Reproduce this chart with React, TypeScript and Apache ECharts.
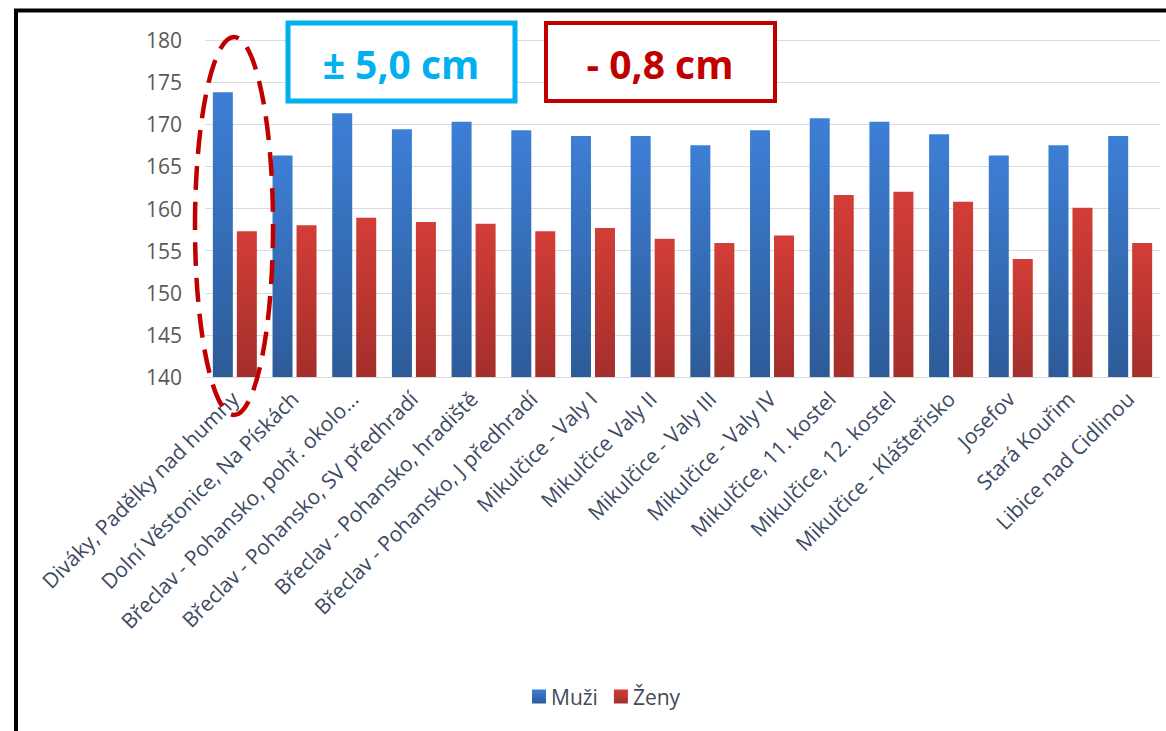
import React, { useEffect, useRef } from "react";
import * as echarts from "echarts";

const categories = [
  "Diváky, Padělky nad humny",
  "Dolní Věstonice, Na Pískách",
  "Břeclav - Pohansko, pohř. okolo...",
  "Břeclav - Pohansko, SV předhradí",
  "Břeclav - Pohansko, hradiště",
  "Břeclav - Pohansko, J předhradí",
  "Mikulčice - Valy I",
  "Mikulčice Valy II",
  "Mikulčice - Valy III",
  "Mikulčice - Valy IV",
  "Mikulčice, 11. kostel",
  "Mikulčice, 12. kostel",
  "Mikulčice - Klášteřisko",
  "Josefov",
  "Stará Kouřim",
  "Libice nad Cidlinou",
];

const muzi = [173.8, 166.3, 171.3, 169.4, 170.3, 169.3, 168.6, 168.6, 167.5, 169.3, 170.7, 170.3, 168.8, 166.3, 167.5, 168.6];
const zeny = [157.3, 158.0, 158.9, 158.4, 158.2, 157.3, 157.7, 156.4, 155.9, 156.8, 161.6, 162.0, 160.8, 154.0, 160.1, 155.9];

const yMin = 140;
const yMax = 180;
const yStep = 5;

const seriesNames = ["Muži", "Ženy"];
const boxTexts = ["± 5,0 cm", "- 0,8 cm"];

const FONT = "'Open Sans', 'Noto Sans', sans-serif";

export default function App() {
  const ref = useRef<HTMLDivElement>(null);

  useEffect(() => {
    if (!ref.current) return;
    const chart = echarts.init(ref.current, null, { renderer: "svg" });

    const blueGrad = new echarts.graphic.LinearGradient(0, 0, 0, 1, [
      { offset: 0, color: "#3d7fd6" },
      { offset: 1, color: "#2d5b98" },
    ]);
    const redGrad = new echarts.graphic.LinearGradient(0, 0, 0, 1, [
      { offset: 0, color: "#d33d37" },
      { offset: 1, color: "#a32f2b" },
    ]);

    chart.setOption({
      animation: false,
      backgroundColor: "#ffffff",
      textStyle: { fontFamily: FONT },
      grid: { left: 205, right: 6, top: 40, bottom: 354, containLabel: false },
      legend: {
        data: seriesNames,
        top: 681,
        left: 527,
        icon: "rect",
        itemWidth: 14,
        itemHeight: 14,
        itemGap: 16,
        textStyle: { fontSize: 21, color: "#44495a", fontFamily: FONT },
      },
      xAxis: {
        type: "category",
        data: categories,
        axisLine: { show: true, lineStyle: { color: "#d9d9d9" } },
        axisTick: { show: false },
        axisLabel: {
          interval: 0,
          rotate: 45,
          fontSize: 21,
          color: "#3d4a63",
          margin: 18,
          fontFamily: FONT,
        },
      },
      yAxis: {
        type: "value",
        min: yMin,
        max: yMax,
        interval: yStep,
        axisLine: { show: false },
        axisTick: { show: false },
        splitLine: { lineStyle: { color: "#dcdcdc", width: 1 } },
        axisLabel: { fontSize: 21, color: "#595959", margin: 23, fontFamily: FONT },
      },
      series: [
        {
          name: seriesNames[0],
          type: "bar",
          data: muzi,
          barWidth: 20,
          barGap: "20%",
          itemStyle: { color: blueGrad },
        },
        {
          name: seriesNames[1],
          type: "bar",
          data: zeny,
          barWidth: 20,
          itemStyle: { color: redGrad },
        },
      ],
      graphic: [
        {
          type: "polyline",
          shape: { points: [[16, 800], [16, 10.5], [1200, 10.5]] },
          style: { stroke: "#000000", lineWidth: 4, fill: "none" },
          z: 100,
        },
        {
          type: "rect",
          shape: { x: 288, y: 23, width: 227, height: 78 },
          style: { stroke: "#00b0f0", lineWidth: 5, fill: "#ffffff" },
          z: 100,
        },
        {
          type: "text",
          x: 401,
          y: 63,
          style: {
            text: boxTexts[0],
            fill: "#00b0f0",
            font: "bold 39px " + FONT,
            align: "center",
            verticalAlign: "middle",
          },
          z: 101,
        },
        {
          type: "rect",
          shape: { x: 546, y: 23, width: 229, height: 78 },
          style: { stroke: "#c00000", lineWidth: 4, fill: "#ffffff" },
          z: 100,
        },
        {
          type: "text",
          x: 660,
          y: 63,
          style: {
            text: boxTexts[1],
            fill: "#c00000",
            font: "bold 39px " + FONT,
            align: "center",
            verticalAlign: "middle",
          },
          z: 101,
        },
        {
          type: "ellipse",
          shape: { cx: 234, cy: 226, rx: 39, ry: 189 },
          style: { stroke: "#c00000", lineWidth: 4.5, fill: "none", lineDash: [24, 12] },
          z: 100,
        },
      ],
    });

    return () => chart.dispose();
  }, []);

  return (
    <div
      ref={ref}
      style={{ position: "fixed", left: 0, top: 0, width: 1166, height: 731 }}
    />
  );
}
